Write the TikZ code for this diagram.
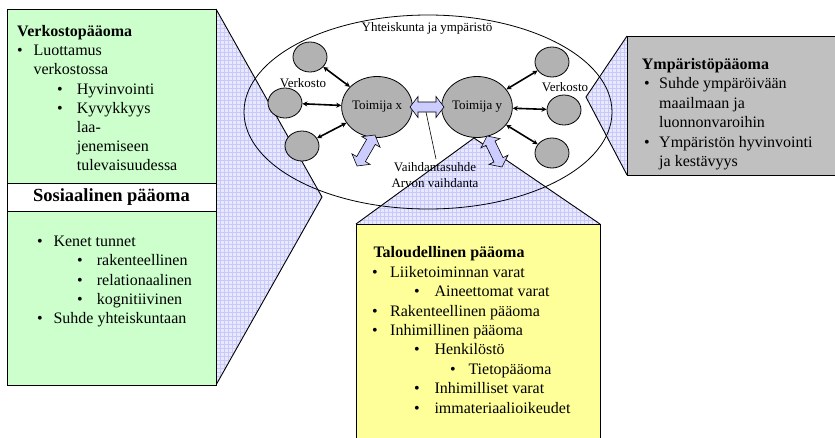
\documentclass[tikz,border=0pt]{standalone}
\usepackage{fontspec}
\setmainfont{Liberation Serif}
\usetikzlibrary{shapes.geometric,arrows.meta}

\definecolor{greenbox}{RGB}{204,255,204}
\definecolor{yellowbox}{RGB}{255,255,153}
\definecolor{graybox}{RGB}{192,192,192}
\definecolor{peerfill}{RGB}{178,178,178}
\definecolor{lav}{RGB}{204,204,255}
\definecolor{wedgefill}{RGB}{232,232,255}
\definecolor{wedgegrid}{RGB}{200,200,250}

\tikzset{
  body/.style={font=\fontsize{16}{19}\selectfont, anchor=base west, inner sep=0pt},
  head/.style={body, font=\fontsize{16}{19}\selectfont\bfseries},
  small/.style={font=\fontsize{13}{15}\selectfont, inner sep=0pt},
  panel/.style={draw=black, line width=0.9pt},
  actor/.style={ellipse, draw=black, line width=0.8pt, fill=peerfill,
    minimum width=64pt, minimum height=61pt, inner sep=0pt,
    font=\fontsize{13}{15}\selectfont},
  peer/.style={ellipse, draw=black, line width=0.8pt, fill=peerfill,
    minimum width=34pt, minimum height=30pt, inner sep=0pt},
  link/.style={{Stealth[length=5pt,width=5pt]}-{Stealth[length=5pt,width=5pt]},
    line width=1.6pt},
  blockarrow/.pic={
    \draw[fill=lav, line width=0.6pt, line join=miter]
      (-#1/2,0) -- (-#1/2+8,10.5) -- (-#1/2+8,5) -- (#1/2-8,5) -- (#1/2-8,10.5)
      -- (#1/2,0) -- (#1/2-8,-10.5) -- (#1/2-8,-5) -- (-#1/2+8,-5)
      -- (-#1/2+8,-10.5) -- cycle;
  }
}

% callout wedge: light lavender with a fine grid
\newcommand\wedgeshape[3]{%
  \begin{scope}
    \clip #1 -- #2 -- #3 -- cycle;
    \fill[wedgefill] (0,0) rectangle (835,437);
    \draw[wedgegrid, line width=0.4pt] (0,0) grid[step=4pt] (836,440);
  \end{scope}
  \draw[line width=0.9pt, line join=miter] #1 -- #2 -- #3;
}

\begin{document}
\begin{tikzpicture}[x=1pt, y=-1pt]
\useasboundingbox (0,0) rectangle (835,437);

% --- callout wedges ---
\wedgeshape{(216,9)}{(322,197)}{(216,385)}
\wedgeshape{(627,36)}{(586,97)}{(627,175)}
\wedgeshape{(356,224)}{(474,138)}{(600,224)}

% --- panels ---
\fill[greenbox] (7,9) rectangle (216,385);
\draw[panel] (7,9) rectangle (216,385);
\draw[panel, fill=white] (7,183) rectangle (216,211);
\node[font=\fontsize{18.5}{22}\selectfont\bfseries, inner sep=0pt] (sos) at (111.5,197) {Sosiaalinen pääoma};

\draw[panel, fill=graybox] (845,36) -- (627,36) -- (627,175) -- (845,175);
\draw[panel, fill=yellowbox] (356,445) -- (356,224) -- (600,224) -- (600,445);

% --- society ellipse ---
\draw[line width=0.8pt] (428,112) ellipse [x radius=184, y radius=97];
\node[small] (soc) at (427,28) {Yhteiskunta ja ympäristö};

% --- actors and their networks ---
\node[actor] (tx) at (377,107) {Toimija x};
\node[actor] (ty) at (477,107) {Toimija y};

\node[peer] (l1) at (310,57) {};
\node[peer] (l2) at (285,103) {};
\node[peer] (l3) at (302,146) {};
\node[peer] (r1) at (552,62) {};
\node[peer] (r2) at (564,110) {};
\node[peer] (r3) at (552,153) {};

\node[small] (verkx) at (303,83) {Verkosto};
\node[small] (verky) at (565,87) {Verkosto};

\draw[link] (l1) -- (tx);
\draw[link] (l2) -- (tx);
\draw[link] (l3) -- (tx);
\draw[link] (r1) -- (ty);
\draw[link] (r2) -- (ty);
\draw[link] (r3) -- (ty);

% --- exchange arrows ---
\pic at (427,107) {blockarrow=34};
\pic[rotate=60] at (366,150.5) {blockarrow=35.8};
\pic[rotate=115.8] at (494.5,151.5) {blockarrow=34.4};

\node[small, anchor=base] (vx1) at (435,171) {Vaihdantasuhde};
\node[small, anchor=base] (vx2) at (435,187) {Arvon vaihdanta};
\coordinate (exch) at (426,112);
\draw[line width=0.6pt] (436,159) -- (exch);

% --- network capital text ---
\node[head] (g0) at (17,36.5) {Verkostopääoma};
\node[body] (g1b) at (17,55.7) {•};
\node[body] (g1) at (33.3,55.7) {Luottamus};
\node[body] (g2) at (33.3,74.9) {verkostossa};
\node[body] (g3b) at (57,94.1) {•};
\node[body] (g3) at (76.7,94.1) {Hyvinvointi};
\node[body] (g4b) at (57,113.3) {•};
\node[body] (g4) at (76.7,113.3) {Kyvykkyys};
\node[body] (g5) at (76.7,132.5) {laa-};
\node[body] (g6) at (76.7,151.7) {jenemiseen};
\node[body] (g7) at (76.7,170.9) {tulevaisuudessa};

% --- social capital text ---
\node[body] (s1b) at (37,246.5) {•};
\node[body] (s1) at (53.3,246.5) {Kenet tunnet};
\node[body] (s2b) at (77,265.8) {•};
\node[body] (s2) at (96.7,265.8) {rakenteellinen};
\node[body] (s3b) at (77,285.1) {•};
\node[body] (s3) at (96.7,285.1) {relationaalinen};
\node[body] (s4b) at (77,304.4) {•};
\node[body] (s4) at (96.7,304.4) {kognitiivinen};
\node[body] (s5b) at (37,323.7) {•};
\node[body] (s5) at (53.3,323.7) {Suhde yhteiskuntaan};

% --- environmental capital text ---
\node[head] (e0) at (641.7,69.5) {Ympäristöpääoma};
\node[body] (e1b) at (644,88.5) {•};
\node[body] (e1) at (659,88.5) {Suhde ympäröivään};
\node[body] (e2) at (659,108.5) {maailmaan ja};
\node[body] (e3) at (659,127.5) {luonnonvaroihin};
\node[body] (e4b) at (644,147.5) {•};
\node[body] (e4) at (659,147.5) {Ympäristön hyvinvointi};
\node[body] (e5) at (659,166.5) {ja kestävyys};

% --- economic capital text ---
\node[head] (y0) at (373.3,257.5) {Taloudellinen pääoma};
\node[body] (y1b) at (372,277.5) {•};
\node[body] (y1) at (390,277.5) {Liiketoiminnan varat};
\node[body] (y2b) at (414,296.5) {•};
\node[body] (y2) at (434.3,296.5) {Aineettomat varat};
\node[body] (y3b) at (372,316.5) {•};
\node[body] (y3) at (390,316.5) {Rakenteellinen pääoma};
\node[body] (y4b) at (372,335.5) {•};
\node[body] (y4) at (390,335.5) {Inhimillinen pääoma};
\node[body] (y5b) at (414,354.5) {•};
\node[body] (y5) at (434.3,354.5) {Henkilöstö};
\node[body] (y6b) at (450,374.5) {•};
\node[body] (y6) at (468.3,374.5) {Tietopääoma};
\node[body] (y7b) at (414,393.5) {•};
\node[body] (y7) at (434.3,393.5) {Inhimilliset varat};
\node[body] (y8b) at (414,413.5) {•};
\node[body] (y8) at (434.3,413.5) {immateriaalioikeudet};
\end{tikzpicture}
\end{document}
